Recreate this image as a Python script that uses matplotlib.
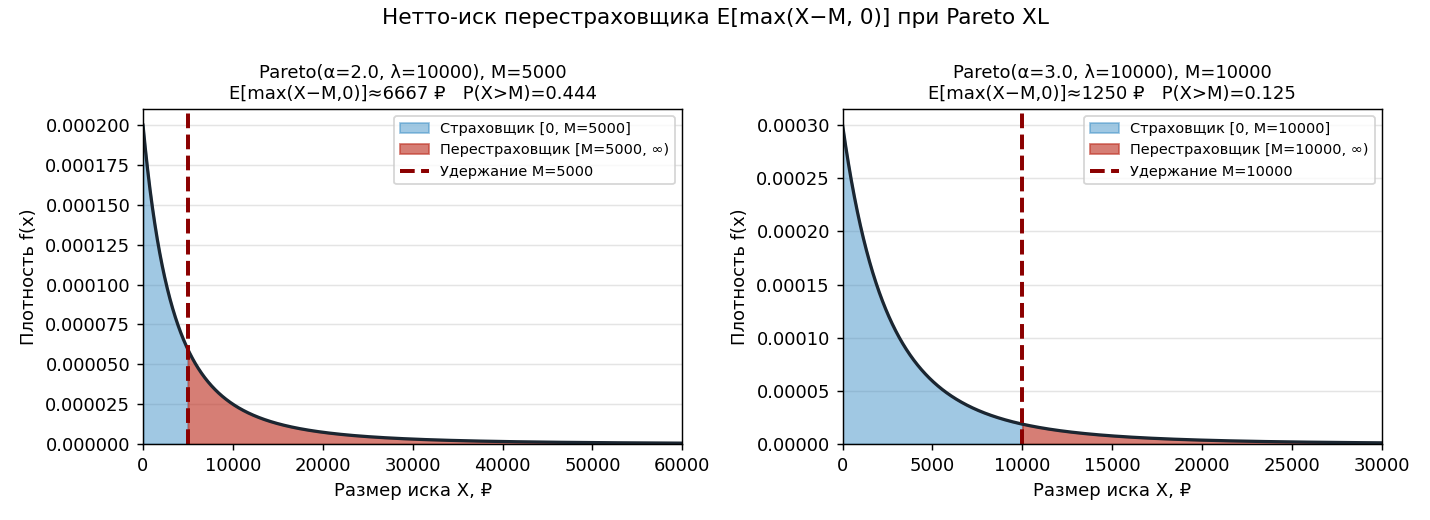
import numpy as np
import matplotlib
matplotlib.use("Agg")
import matplotlib.pyplot as plt

# Pareto (Lomax) parameters for the two panels
alphas = [2.0, 3.0]
lambdas = [10000, 10000]
retentions = [5000, 10000]
x_max = [60000, 30000]


def pareto_pdf(x, a, lam):
    return a * lam ** a / (lam + x) ** (a + 1)


plt.rcParams["font.size"] = 10

fig, axes = plt.subplots(1, 2, figsize=(11, 4), dpi=130)
fig.subplots_adjust(left=0.1, right=0.9664, bottom=0.146, top=0.79, wspace=0.297)
fig.suptitle("Нетто-иск перестраховщика E[max(X−M, 0)] при Pareto XL", fontsize=12, y=0.985)

for ax, a, lam, M, xm in zip(axes, alphas, lambdas, retentions, x_max):
    x = np.linspace(0, xm, 2000)
    y = pareto_pdf(x, a, lam)
    net = lam ** a / ((a - 1) * (lam + M) ** (a - 1))
    p_exceed = (lam / (lam + M)) ** a

    ax.fill_between(x, 0, y, where=x <= M, color="#2E86C1", alpha=0.45,
                    label=f"Страховщик [0, M={M}]")
    ax.fill_between(x, 0, y, where=x >= M, color="#C0392B", alpha=0.65,
                    label=f"Перестраховщик [M={M}, ∞)")
    ax.plot(x, y, color="#1B2631", lw=1.8)
    ax.axvline(M, color="darkred", ls="--", lw=2.2, label=f"Удержание M={M}")

    ax.set_xlim(0, xm)
    ax.set_ylim(0, y.max() * 1.05)
    ax.grid(True, axis="y", color="#e4e4e4", lw=0.8)
    ax.set_axisbelow(True)
    ax.set_xlabel("Размер иска X, ₽")
    ax.set_ylabel("Плотность f(x)")
    ax.set_title(f"Pareto(α={a}, λ={lam}), M={M}\n"
                 f"E[max(X−M,0)]≈{net:.0f} ₽   P(X>M)={p_exceed:.3f}",
                 fontsize=10)
    ax.legend(loc="upper right", fontsize=8)

fig.savefig("out.png", dpi=130)
